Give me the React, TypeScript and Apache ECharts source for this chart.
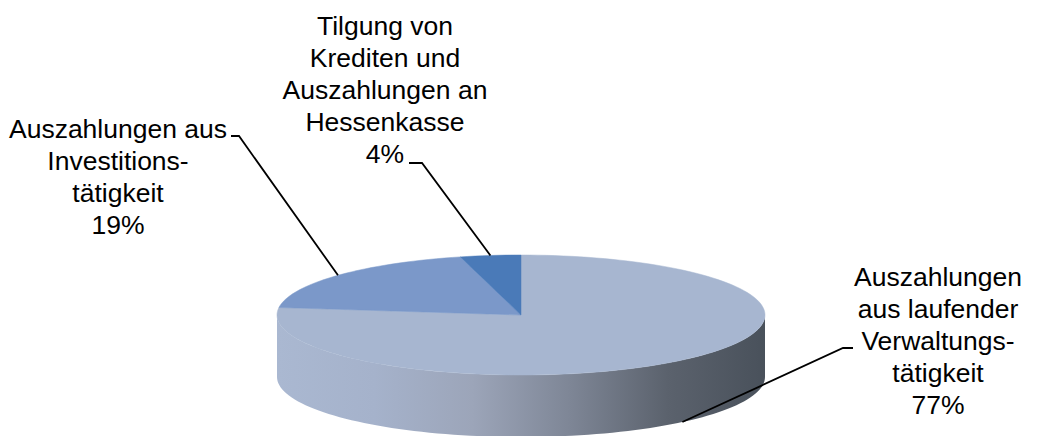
import React, { useEffect, useRef } from "react";
import * as echarts from "echarts";

// ---- data ----
const categories = [
  "Auszahlungen aus laufender Verwaltungstätigkeit",
  "Auszahlungen aus Investitionstätigkeit",
  "Tilgung von Krediten und Auszahlungen an Hessenkasse",
];
const labelLines = [
  ["Auszahlungen", "aus laufender", "Verwaltungs-", "tätigkeit"],
  ["Auszahlungen aus", "Investitions-", "tätigkeit"],
  ["Tilgung von", "Krediten und", "Auszahlungen an", "Hessenkasse"],
];
const values = [77, 19, 4];

// ---- styles / layout ----
const sliceColors = ["#A7B6D0", "#7B98C9", "#4A7AB8"];
const PIE = { cx: 521, cy: 315, rx: 244, ry: 60, depth: 62 };
const LABEL_LAYOUT = [
  { x: 938, y: 341, elbow: [[853, 348], [843, 348]] },
  { x: 118, y: 177, elbow: [[231, 136], [239, 136]] },
  { x: 385, y: 90, elbow: [[409, 163], [422, 163]] },
];

const total = values.reduce((a, b) => a + b, 0);
const starts: number[] = [];
{
  let c = 0;
  for (const v of values) {
    starts.push(c);
    c += v;
  }
}

const rad = (d: number) => (d * Math.PI) / 180;
const pt = (deg: number, dy = 0) => [
  PIE.cx + PIE.rx * Math.cos(rad(deg)),
  PIE.cy - PIE.ry * Math.sin(rad(deg)) + dy,
];
const arc = (from: number, to: number, dy = 0) => {
  const n = Math.max(2, Math.ceil(Math.abs(to - from) / 2));
  const out: number[][] = [];
  for (let k = 0; k <= n; k++) out.push(pt(from + ((to - from) * k) / n, dy));
  return out;
};

export default function App() {
  const ref = useRef<HTMLDivElement>(null);
  useEffect(() => {
    document.body.style.margin = "0";
    const chart = echarts.init(ref.current!, null, { renderer: "svg" });
    chart.setOption({
      animation: false,
      backgroundColor: "#ffffff",
      series: [
        {
          type: "custom",
          coordinateSystem: "none",
          silent: true,
          data: values.map((v, i) => ({ name: categories[i], value: v })),
          renderItem: (params: any, api: any) => {
            const i = params.dataIndex;
            const v = api.value(0);
            const a0 = 90 - (360 * starts[i]) / total;
            const a1 = 90 - (360 * (starts[i] + v)) / total;
            const children: any[] = [];
            // side walls (front, visible half)
            for (let k = -2; k <= 1; k++) {
              const lo = -180 + 360 * k;
              const hi = 360 * k;
              const s = Math.max(a1, lo);
              const e = Math.min(a0, hi);
              if (s < e) {
                const pts = [...arc(s, e, 0), ...arc(e, s, PIE.depth)];
                children.push({
                  type: "polygon",
                  shape: { points: pts },
                  style: {
                    fill: {
                      type: "linear",
                      x: PIE.cx - PIE.rx,
                      y: 0,
                      x2: PIE.cx + PIE.rx,
                      y2: 0,
                      global: true,
                      colorStops: [
                        { offset: 0, color: "#AAB8D1" },
                        { offset: 0.2, color: "#A5B2CB" },
                        { offset: 0.4, color: "#9CA5B9" },
                        { offset: 0.6, color: "#7E8696" },
                        { offset: 0.8, color: "#5B626D" },
                        { offset: 1, color: "#49515B" },
                      ],
                    },
                    stroke: null,
                  },
                });
              }
            }
            // top face
            const top = [[PIE.cx, PIE.cy], ...arc(a0, a1, 0)];
            children.push({
              type: "polygon",
              shape: { points: top },
              style: { fill: sliceColors[i], stroke: sliceColors[i], lineWidth: 0.5 },
            });
            // leader line
            const mid = (a0 + a1) / 2;
            const sinM = Math.sin(rad(mid));
            const end = pt(mid, sinM < 0 ? PIE.depth : 0);
            const L = LABEL_LAYOUT[i];
            children.push({
              type: "polyline",
              shape: { points: [L.elbow[0], L.elbow[1], end] },
              style: { stroke: "#000", lineWidth: 1.8, fill: null },
            });
            // label
            const pct = Math.round((v / total) * 100) + "%";
            children.push({
              type: "text",
              style: {
                text: [...labelLines[i], pct].join("\n"),
                x: L.x,
                y: L.y,
                align: "center",
                verticalAlign: "middle",
                fontFamily: "'Liberation Sans', Arial, sans-serif",
                fontSize: 26.5,
                lineHeight: 32,
                fill: "#000",
              },
            });
            return { type: "group", children };
          },
        },
      ],
    });
    return () => chart.dispose();
  }, []);
  return <div ref={ref} style={{ width: 1039, height: 436 }} />;
}
